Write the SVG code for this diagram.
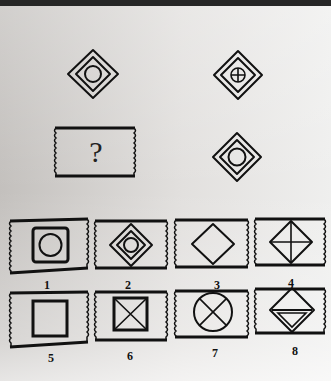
<svg xmlns="http://www.w3.org/2000/svg" width="331" height="381" viewBox="0 0 331 381">
<defs>
<linearGradient id="bgH" x1="0" y1="0" x2="1" y2="0">
<stop offset="0" stop-color="#c3c0bd"/>
<stop offset="0.55" stop-color="#e2e0de"/>
<stop offset="1" stop-color="#efefee"/>
</linearGradient>
<linearGradient id="bgV" x1="0" y1="0" x2="0" y2="1">
<stop offset="0" stop-color="#ffffff" stop-opacity="0.25"/>
<stop offset="0.5" stop-color="#ffffff" stop-opacity="0"/>
<stop offset="0.9" stop-color="#ffffff" stop-opacity="0.35"/>
<stop offset="1" stop-color="#ffffff" stop-opacity="0.6"/>
</linearGradient>
<style>
.s{fill:none;stroke:#111;stroke-width:2;stroke-linejoin:round}
.t{fill:none;stroke:#111;stroke-width:1.6}
.edge{fill:none;stroke:#111;stroke-width:3}
.wave{fill:none;stroke:#111;stroke-width:1.5}
.lbl{font-family:"Liberation Serif",serif;font-weight:bold;font-size:12px;fill:#111;text-anchor:middle}
</style>
</defs>
<rect width="331" height="381" fill="url(#bgH)"/>
<rect width="331" height="381" fill="url(#bgV)"/>
<rect width="331" height="6" fill="#262626"/>

<g id="fig-top-left">
<path class="s" d="M93,50 L118,74 L93,98 L68,74 Z"/>
<path class="s" d="M93,57 L110,74 L93,91 L76,74 Z"/>
<circle class="s" cx="93" cy="74" r="8"/>
</g>

<g id="fig-top-right">
<path class="s" d="M238,51 L262,75 L238,99 L214,75 Z"/>
<path class="s" d="M238,58 L255,75 L238,92 L221,75 Z"/>
<circle class="t" cx="238" cy="75" r="7"/>
<path class="t" d="M231,75 H245 M238,68 V82"/>
</g>

<g id="fig-question">
<path class="edge" d="M55,128 H135 M55,176 H135"/>
<path class="wave" d="M56,128 q-3,2.5 0,5 q-3,2.5 0,5 q-3,2.5 0,5 q-3,2.5 0,5 q-3,2.5 0,5 q-3,2.5 0,5 q-3,2.5 0,5 q-3,2.5 0,5 q-3,2.5 0,5 V176"/>
<path class="wave" d="M134,128 q3,2.5 0,5 q3,2.5 0,5 q3,2.5 0,5 q3,2.5 0,5 q3,2.5 0,5 q3,2.5 0,5 q3,2.5 0,5 q3,2.5 0,5 q3,2.5 0,5 V176"/>
<text x="96" y="162" font-family="Liberation Serif, serif" font-size="30" fill="#222" text-anchor="middle">?</text>
</g>

<g id="fig-bottom-right">
<path class="s" d="M237,133 L261,157 L237,181 L213,157 Z"/>
<path class="s" d="M237,140 L254,157 L237,174 L220,157 Z"/>
<circle class="s" cx="237" cy="157" r="8.5"/>
</g>

<g id="opt1">
<path class="edge" d="M10,221 L88,219 M10,273 L88,268"/>
<path class="wave" d="M11,221 q-3,2.5 0,5 q-3,2.5 0,5 q-3,2.5 0,5 q-3,2.5 0,5 q-3,2.5 0,5 q-3,2.5 0,5 q-3,2.5 0,5 q-3,2.5 0,5 q-3,2.5 0,5 q-3,2.5 0,5 V273"/>
<path class="wave" d="M87,219 q3,2.5 0,5 q3,2.5 0,5 q3,2.5 0,5 q3,2.5 0,5 q3,2.5 0,5 q3,2.5 0,5 q3,2.5 0,5 q3,2.5 0,5 q3,2.5 0,5 V268"/>
<rect x="33" y="228" width="35" height="34" rx="3" fill="none" stroke="#111" stroke-width="3"/>
<circle class="s" cx="50.5" cy="245" r="11"/>
<text class="lbl" x="47" y="289">1</text>
</g>

<g id="opt2">
<path class="edge" d="M95,221 H167 M95,268 H167"/>
<path class="wave" d="M96,221 q-3,2.5 0,5 q-3,2.5 0,5 q-3,2.5 0,5 q-3,2.5 0,5 q-3,2.5 0,5 q-3,2.5 0,5 q-3,2.5 0,5 q-3,2.5 0,5 q-3,2.5 0,5 V268"/>
<path class="wave" d="M166,221 q3,2.5 0,5 q3,2.5 0,5 q3,2.5 0,5 q3,2.5 0,5 q3,2.5 0,5 q3,2.5 0,5 q3,2.5 0,5 q3,2.5 0,5 q3,2.5 0,5 V268"/>
<path class="s" d="M131,224 L152,245 L131,266 L110,245 Z"/>
<path class="s" d="M131,231 L145,245 L131,259 L117,245 Z"/>
<circle class="s" cx="131" cy="245" r="7"/>
<text class="lbl" x="128" y="289">2</text>
</g>

<g id="opt3">
<path class="edge" d="M175,220 H248 M175,267 H248"/>
<path class="wave" d="M176,220 q-3,2.5 0,5 q-3,2.5 0,5 q-3,2.5 0,5 q-3,2.5 0,5 q-3,2.5 0,5 q-3,2.5 0,5 q-3,2.5 0,5 q-3,2.5 0,5 q-3,2.5 0,5 V267"/>
<path class="wave" d="M247,220 q3,2.5 0,5 q3,2.5 0,5 q3,2.5 0,5 q3,2.5 0,5 q3,2.5 0,5 q3,2.5 0,5 q3,2.5 0,5 q3,2.5 0,5 q3,2.5 0,5 V267"/>
<path class="s" d="M213,224 L234,244 L213,264 L192,244 Z"/>
<text class="lbl" x="217" y="289">3</text>
</g>

<g id="opt4">
<path class="edge" d="M255,219 H325 M255,265 H325"/>
<path class="wave" d="M256,219 q-3,2.5 0,5 q-3,2.5 0,5 q-3,2.5 0,5 q-3,2.5 0,5 q-3,2.5 0,5 q-3,2.5 0,5 q-3,2.5 0,5 q-3,2.5 0,5 q-3,2.5 0,5 V265"/>
<path class="wave" d="M324,219 q3,2.5 0,5 q3,2.5 0,5 q3,2.5 0,5 q3,2.5 0,5 q3,2.5 0,5 q3,2.5 0,5 q3,2.5 0,5 q3,2.5 0,5 q3,2.5 0,5 V265"/>
<path class="s" d="M291,221 L312,242 L291,263 L270,242 Z"/>
<path class="t" d="M271,242 H311 M291,222 V262"/>
<text class="lbl" x="291" y="287">4</text>
</g>

<g id="opt5">
<path class="edge" d="M10,293 L88,292 M10,347 L88,342"/>
<path class="wave" d="M11,293 q-3,2.5 0,5 q-3,2.5 0,5 q-3,2.5 0,5 q-3,2.5 0,5 q-3,2.5 0,5 q-3,2.5 0,5 q-3,2.5 0,5 q-3,2.5 0,5 q-3,2.5 0,5 q-3,2.5 0,5 V347"/>
<path class="wave" d="M87,292 q3,2.5 0,5 q3,2.5 0,5 q3,2.5 0,5 q3,2.5 0,5 q3,2.5 0,5 q3,2.5 0,5 q3,2.5 0,5 q3,2.5 0,5 q3,2.5 0,5 V342"/>
<rect x="33" y="301" width="34" height="35" fill="none" stroke="#111" stroke-width="3"/>
<text class="lbl" x="51" y="362">5</text>
</g>

<g id="opt6">
<path class="edge" d="M95,292 H167 M95,340 H167"/>
<path class="wave" d="M96,292 q-3,2.5 0,5 q-3,2.5 0,5 q-3,2.5 0,5 q-3,2.5 0,5 q-3,2.5 0,5 q-3,2.5 0,5 q-3,2.5 0,5 q-3,2.5 0,5 q-3,2.5 0,5 V340"/>
<path class="wave" d="M166,292 q3,2.5 0,5 q3,2.5 0,5 q3,2.5 0,5 q3,2.5 0,5 q3,2.5 0,5 q3,2.5 0,5 q3,2.5 0,5 q3,2.5 0,5 q3,2.5 0,5 V340"/>
<rect x="114" y="298" width="33" height="32" fill="none" stroke="#111" stroke-width="3"/>
<path class="t" d="M114,298 L147,330 M147,298 L114,330"/>
<text class="lbl" x="130" y="360">6</text>
</g>

<g id="opt7">
<path class="edge" d="M175,291 H248 M175,337 H248"/>
<path class="wave" d="M176,291 q-3,2.5 0,5 q-3,2.5 0,5 q-3,2.5 0,5 q-3,2.5 0,5 q-3,2.5 0,5 q-3,2.5 0,5 q-3,2.5 0,5 q-3,2.5 0,5 q-3,2.5 0,5 V337"/>
<path class="wave" d="M247,291 q3,2.5 0,5 q3,2.5 0,5 q3,2.5 0,5 q3,2.5 0,5 q3,2.5 0,5 q3,2.5 0,5 q3,2.5 0,5 q3,2.5 0,5 q3,2.5 0,5 V337"/>
<circle class="s" cx="213" cy="312" r="19"/>
<path class="t" d="M199.6,298.6 L226.4,325.4 M226.4,298.6 L199.6,325.4"/>
<text class="lbl" x="215" y="357">7</text>
</g>

<g id="opt8">
<path class="edge" d="M255,289 H325 M255,333 H325"/>
<path class="wave" d="M256,289 q-3,2.5 0,5 q-3,2.5 0,5 q-3,2.5 0,5 q-3,2.5 0,5 q-3,2.5 0,5 q-3,2.5 0,5 q-3,2.5 0,5 q-3,2.5 0,5 V333"/>
<path class="wave" d="M324,289 q3,2.5 0,5 q3,2.5 0,5 q3,2.5 0,5 q3,2.5 0,5 q3,2.5 0,5 q3,2.5 0,5 q3,2.5 0,5 q3,2.5 0,5 V333"/>
<path class="s" d="M292,288 L314,310 L292,332 L270,310 Z"/>
<path class="s" d="M272,310 H312"/>
<path class="t" d="M278,313 H306 L292,327 Z"/>
<text class="lbl" x="295" y="355">8</text>
</g>
</svg>
